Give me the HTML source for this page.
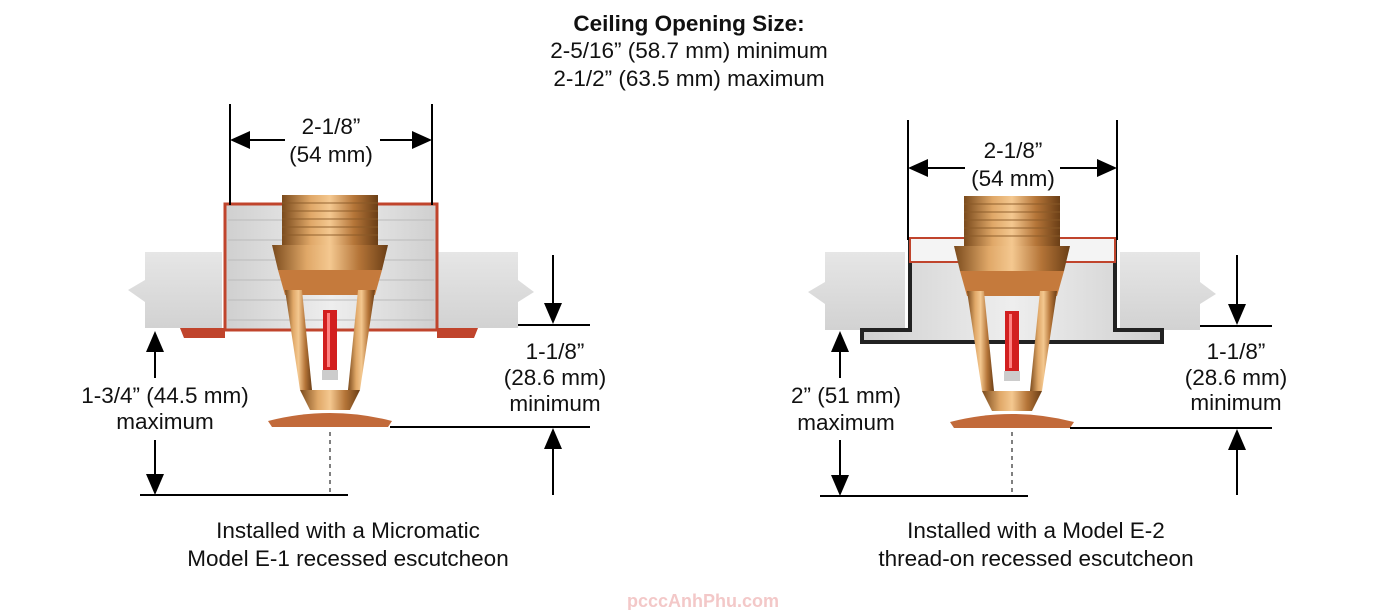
<!DOCTYPE html>
<html><head><meta charset="utf-8"><style>
html,body{margin:0;padding:0;background:#fff;}
svg{display:block;font-family:"Liberation Sans",Arial,sans-serif;}
</style></head><body>
<svg width="1397" height="610" viewBox="0 0 1397 610" xmlns="http://www.w3.org/2000/svg">
<defs>
<linearGradient id="brass" x1="0" x2="1" y1="0" y2="0">
<stop offset="0" stop-color="#7a4a1c"/><stop offset="0.3" stop-color="#e0a868"/><stop offset="0.5" stop-color="#f4c890"/><stop offset="0.75" stop-color="#b57538"/><stop offset="1" stop-color="#6a3e16"/>
</linearGradient>
<linearGradient id="tile" x1="0" x2="0" y1="0" y2="1"><stop offset="0" stop-color="#e6e6e6"/><stop offset="1" stop-color="#d2d2d2"/></linearGradient>
<linearGradient id="esc" x1="0" x2="1"><stop offset="0" stop-color="#cfcfcf"/><stop offset="0.5" stop-color="#eeeeee"/><stop offset="1" stop-color="#cfcfcf"/></linearGradient>
<g id="spr">
<rect x="-48" y="0" width="96" height="50" fill="url(#brass)"/>
<g stroke="#8a5a28" stroke-width="1.5" opacity="0.6"><line x1="-48" y1="8" x2="48" y2="8"/><line x1="-48" y1="16" x2="48" y2="16"/><line x1="-48" y1="24" x2="48" y2="24"/><line x1="-48" y1="32" x2="48" y2="32"/><line x1="-48" y1="40" x2="48" y2="40"/></g>
<path d="M-58 50 H58 L52 75 H-52 Z" fill="url(#brass)"/>
<path d="M-52 75 H52 L45 100 H-45 Z" fill="#c57a3c"/>
<path d="M-45 95 L-28 95 L-18 195 L-30 195 Z" fill="url(#brass)"/>
<path d="M45 95 L28 95 L18 195 L30 195 Z" fill="url(#brass)"/>
<rect x="-7" y="115" width="14" height="60" fill="#d21f1f"/>
<rect x="-3" y="118" width="3" height="54" fill="#ff8080"/>
<rect x="-8" y="175" width="16" height="10" fill="#ccc"/>
<path d="M-30 195 L30 195 L20 215 L-20 215 Z" fill="url(#brass)"/>
<path d="M-62 226 Q0 210 62 226 L58 232 H-58 Z" fill="#c26a3a"/>
</g>
</defs>

<g font-size="22.5" fill="#111" text-anchor="middle">
<text x="689" y="31" font-weight="bold">Ceiling Opening Size:</text>
<text x="689" y="58">2-5/16” (58.7 mm) minimum</text>
<text x="689" y="86">2-1/2” (63.5 mm) maximum</text>
</g>

<!-- LEFT -->
<g>
<path d="M145 252 H222 V328 H145 V302 L128 290 L145 280 Z" fill="url(#tile)"/>
<path d="M437 252 H518 V280 L534 292 L518 302 V328 H437 Z" fill="url(#tile)"/>
<rect x="225" y="204" width="212" height="126" fill="url(#esc)" stroke="#c0442c" stroke-width="3"/>
<g stroke="#bbb" stroke-width="1"><line x1="228" y1="220" x2="434" y2="220"/><line x1="228" y1="240" x2="434" y2="240"/><line x1="228" y1="260" x2="434" y2="260"/><line x1="228" y1="280" x2="434" y2="280"/><line x1="228" y1="300" x2="434" y2="300"/><line x1="228" y1="320" x2="434" y2="320"/></g>
<path d="M180 328 H225 V338 H184 Z" fill="#c0442c"/>
<path d="M437 328 H478 L474 338 H437 Z" fill="#c0442c"/>
<use href="#spr" x="330" y="195"/>
<g stroke="#000" stroke-width="2" fill="none">
<line x1="230" y1="104" x2="230" y2="205"/><line x1="432" y1="104" x2="432" y2="205"/>
<line x1="245" y1="140" x2="285" y2="140"/><line x1="380" y1="140" x2="418" y2="140"/>
<line x1="553" y1="255" x2="553" y2="305"/><line x1="518" y1="325" x2="590" y2="325"/>
<line x1="390" y1="427" x2="590" y2="427"/><line x1="553" y1="447" x2="553" y2="495"/>
<line x1="155" y1="352" x2="155" y2="378"/><line x1="155" y1="440" x2="155" y2="475"/>
<line x1="140" y1="495" x2="348" y2="495"/>
<line x1="330" y1="432" x2="330" y2="495" stroke-dasharray="4,4" stroke-width="1"/>
</g>
<g fill="#000">
<path d="M230 140 L250 131 V149 Z"/><path d="M432 140 L412 131 V149 Z"/>
<path d="M553 324 L544 303 H562 Z"/><path d="M553 428 L544 449 H562 Z"/>
<path d="M155 331 L146 352 H164 Z"/><path d="M155 495 L146 474 H164 Z"/>
</g>
<g font-size="22.5" fill="#111" text-anchor="middle">
<text x="331" y="134">2-1/8”</text><text x="331" y="162">(54 mm)</text>
<text x="555" y="359">1-1/8”</text><text x="555" y="385">(28.6 mm)</text><text x="555" y="411">minimum</text>
<text x="165" y="403">1-3/4” (44.5 mm)</text><text x="165" y="429">maximum</text>
<text x="348" y="538">Installed with a Micromatic</text><text x="348" y="566">Model E-1 recessed escutcheon</text>
</g>
</g>

<!-- RIGHT -->
<g>
<path d="M825 252 H905 V330 H825 V304 L808 292 L825 282 Z" fill="url(#tile)"/>
<path d="M1120 252 H1200 V282 L1216 294 L1200 304 V330 H1120 Z" fill="url(#tile)"/>
<path d="M910 238 V330 H862 V342 H1162 V330 H1115 V238" fill="url(#esc)" stroke="#222" stroke-width="4"/>
<rect x="910" y="238" width="205" height="24" fill="#f4f4f4" stroke="#c0442c" stroke-width="2"/>
<use href="#spr" x="1012" y="196"/>
<g stroke="#000" stroke-width="2" fill="none">
<line x1="908" y1="120" x2="908" y2="240"/><line x1="1117" y1="120" x2="1117" y2="240"/>
<line x1="923" y1="168" x2="965" y2="168"/><line x1="1060" y1="168" x2="1102" y2="168"/>
<line x1="1237" y1="255" x2="1237" y2="305"/><line x1="1200" y1="326" x2="1272" y2="326"/>
<line x1="1070" y1="428" x2="1272" y2="428"/><line x1="1237" y1="448" x2="1237" y2="495"/>
<line x1="840" y1="352" x2="840" y2="378"/><line x1="840" y1="440" x2="840" y2="475"/>
<line x1="820" y1="496" x2="1028" y2="496"/>
<line x1="1012" y1="432" x2="1012" y2="496" stroke-dasharray="4,4" stroke-width="1"/>
</g>
<g fill="#000">
<path d="M908 168 L928 159 V177 Z"/><path d="M1117 168 L1097 159 V177 Z"/>
<path d="M1237 325 L1228 304 H1246 Z"/><path d="M1237 429 L1228 450 H1246 Z"/>
<path d="M840 331 L831 352 H849 Z"/><path d="M840 496 L831 475 H849 Z"/>
</g>
<g font-size="22.5" fill="#111" text-anchor="middle">
<text x="1013" y="158">2-1/8”</text><text x="1013" y="186">(54 mm)</text>
<text x="1236" y="359">1-1/8”</text><text x="1236" y="385">(28.6 mm)</text><text x="1236" y="410">minimum</text>
<text x="846" y="403">2” (51 mm)</text><text x="846" y="430">maximum</text>
<text x="1036" y="538">Installed with a Model E-2</text><text x="1036" y="566">thread-on recessed escutcheon</text>
</g>
</g>

<text x="703" y="607" font-size="18" font-weight="bold" fill="#f3c8c8" text-anchor="middle">pcccAnhPhu.com</text>
</svg>
</body></html>
